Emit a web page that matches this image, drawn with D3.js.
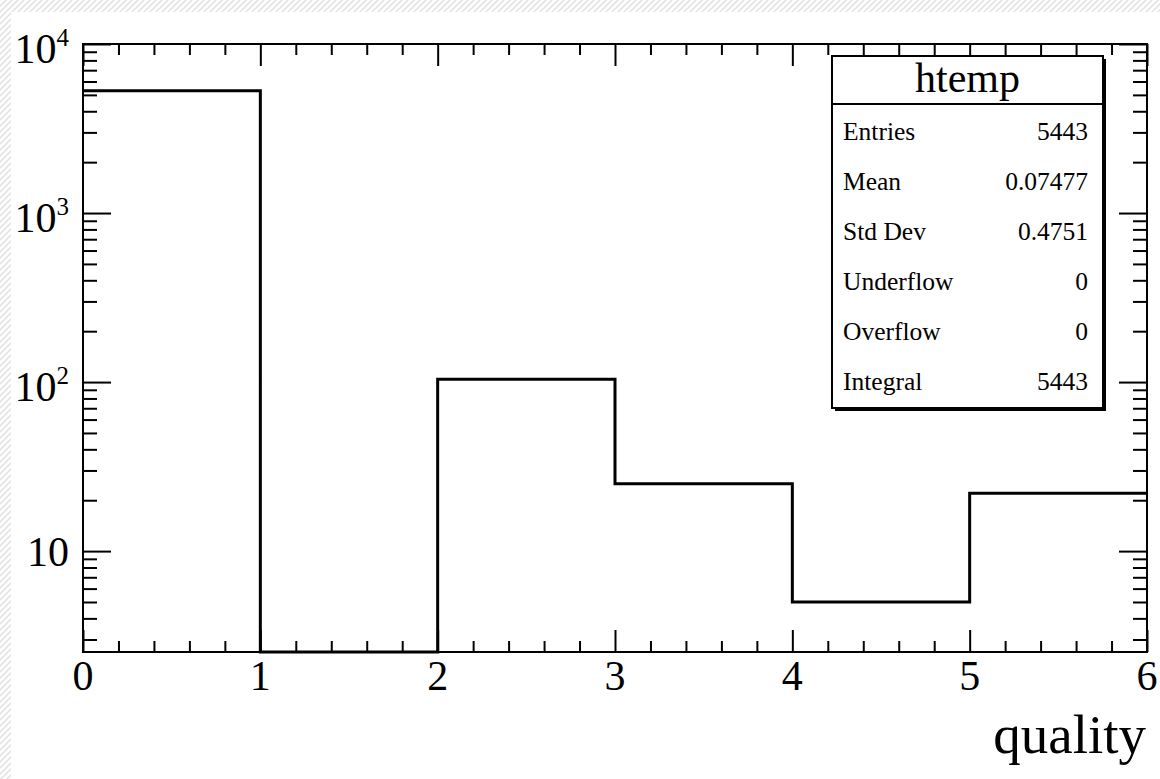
<!DOCTYPE html>
<html>
<head>
<meta charset="utf-8">
<script src="https://cdn.jsdelivr.net/npm/d3@7"></script>
<style>
  body { margin: 0; background: #fff; }
  svg { display: block; }
  .tick text { display: none; }
</style>
</head>
<body>
<div id="chart"></div>
<script>
// histogram contents (bins of width 1 on "quality")
const binEdges = [0, 1, 2, 3, 4, 5, 6]
const binCounts = [5287, 0, 104, 25, 5, 22]
const xTickValues = [0, 1, 2, 3, 4, 5, 6]
const yMajorTicks = [10, 100, 1000, 10000]
const yTickLabels = [["10", ""], ["10", "2"], ["10", "3"], ["10", "4"]]
const statNames = ["Entries", "Mean", "Std Dev", "Underflow", "Overflow", "Integral"]
const statValues = ["5443", "0.07477", "0.4751", "0", "0", "5443"]
const histTitle = "htemp"
const xTitle = "quality"
const yDomain = [2.53, 10000]

const W = 1160, H = 779
const frame = { left: 83, top: 44, right: 1147, bottom: 652 }
const serif = "'Liberation Serif', 'Times New Roman', serif"

const svg = d3.select('#chart').append('svg')
    .attr('width', W).attr('height', H)

// hatched canvas edge
const pat = svg.append('defs').append('pattern')
    .attr('id', 'hatch').attr('patternUnits', 'userSpaceOnUse')
    .attr('width', 6).attr('height', 6)
pat.append('path').attr('d', 'M-1,7 L7,-1 M-4,4 L4,-4 M2,10 L10,2')
    .attr('stroke', '#e4e4e4').attr('stroke-width', 1.6)
svg.append('rect').attr('width', W).attr('height', H).attr('fill', 'url(#hatch)')
svg.append('rect').attr('x', 11).attr('y', 12).attr('width', W - 11).attr('height', H - 12).attr('fill', '#fff')

const x = d3.scaleLinear().domain([0, 6]).range([frame.left, frame.right])
const y = d3.scaleLog().domain(yDomain).range([frame.bottom, frame.top])

// minor ticks
const xMinor = d3.range(0, 6.001, 0.2).map(v => +v.toFixed(1)).filter(v => !xTickValues.includes(v))
const yMinor = []
yMajorTicks.forEach(d => { for (let m = 2; m <= 9; m++) { const v = d / 10 * m; if (v >= yDomain[0] && v <= yDomain[1]) yMinor.push(v) } })

function styleAxis (g) {
  g.select('.domain').remove()
  g.selectAll('line').attr('stroke', '#000').attr('stroke-width', 2)
}

// bottom / top
svg.append('g').attr('transform', `translate(0,${frame.bottom})`)
    .call(d3.axisBottom(x).tickValues(xTickValues).tickSize(-22)).call(styleAxis)
svg.append('g').attr('transform', `translate(0,${frame.bottom})`)
    .call(d3.axisBottom(x).tickValues(xMinor).tickSize(-11)).call(styleAxis)
svg.append('g').attr('transform', `translate(0,${frame.top})`)
    .call(d3.axisTop(x).tickValues(xTickValues).tickSize(-22)).call(styleAxis)
svg.append('g').attr('transform', `translate(0,${frame.top})`)
    .call(d3.axisTop(x).tickValues(xMinor).tickSize(-11)).call(styleAxis)
// left / right
svg.append('g').attr('transform', `translate(${frame.left},0)`)
    .call(d3.axisLeft(y).tickValues(yMajorTicks).tickSize(-28)).call(styleAxis)
svg.append('g').attr('transform', `translate(${frame.left},0)`)
    .call(d3.axisLeft(y).tickValues(yMinor).tickSize(-14)).call(styleAxis)
svg.append('g').attr('transform', `translate(${frame.right},0)`)
    .call(d3.axisRight(y).tickValues(yMajorTicks).tickSize(-28)).call(styleAxis)
svg.append('g').attr('transform', `translate(${frame.right},0)`)
    .call(d3.axisRight(y).tickValues(yMinor).tickSize(-14)).call(styleAxis)

// histogram step line (empty bins sit on the bottom of the frame)
const pts = binCounts.map((c, i) => [binEdges[i], c])
pts.push([binEdges[binEdges.length - 1], binCounts[binCounts.length - 1]])
const line = d3.line()
    .x(d => x(d[0]))
    .y(d => y(Math.max(d[1], yDomain[0])))
    .curve(d3.curveStepAfter)
svg.append('path').datum(pts)
    .attr('d', line)
    .attr('fill', 'none').attr('stroke', '#000').attr('stroke-width', 3)

// frame
svg.append('rect')
    .attr('x', frame.left).attr('y', frame.top)
    .attr('width', frame.right - frame.left).attr('height', frame.bottom - frame.top)
    .attr('fill', 'none').attr('stroke', '#000').attr('stroke-width', 2)

// x labels
svg.selectAll('.xlab').data(xTickValues).join('text')
    .attr('class', 'xlab')
    .attr('x', d => x(d)).attr('y', 690)
    .attr('text-anchor', 'middle')
    .attr('font-family', serif).attr('font-size', 42)
    .text(d => d)

// y labels with superscripts
const ylab = svg.selectAll('.ylab').data(yMajorTicks).join('text')
    .attr('class', 'ylab')
    .attr('x', 69)
    .attr('y', (d, i) => y(d) + 15 + (yTickLabels[i][1] ? 4 : 0))
    .attr('text-anchor', 'end')
    .attr('font-family', serif).attr('font-size', 42)
ylab.append('tspan').text((d, i) => yTickLabels[i][0])
ylab.append('tspan').attr('font-size', 25).attr('dy', -17)
    .text((d, i) => yTickLabels[i][1])

// axis title
svg.append('text')
    .attr('x', 1146).attr('y', 753)
    .attr('text-anchor', 'end')
    .attr('font-family', serif).attr('font-size', 55)
    .text(xTitle)

// stats box
const box = { x: 832, y: 56, w: 271, h: 352 }
svg.append('rect').attr('x', box.x + 3).attr('y', box.y + 3)
    .attr('width', box.w).attr('height', box.h).attr('fill', '#000')
svg.append('rect').attr('x', box.x).attr('y', box.y)
    .attr('width', box.w).attr('height', box.h)
    .attr('fill', '#fff').attr('stroke', '#000').attr('stroke-width', 2)
svg.append('line').attr('x1', box.x).attr('x2', box.x + box.w)
    .attr('y1', 104).attr('y2', 104).attr('stroke', '#000').attr('stroke-width', 2)
svg.append('text').attr('x', box.x + box.w / 2).attr('y', 92)
    .attr('text-anchor', 'middle')
    .attr('font-family', serif).attr('font-size', 42)
    .text(histTitle)
const rowY = d3.scaleLinear().domain([0, statNames.length - 1]).range([140, 390])
svg.selectAll('.sname').data(statNames).join('text')
    .attr('class', 'sname')
    .attr('x', 843).attr('y', (d, i) => rowY(i))
    .attr('font-family', serif).attr('font-size', 25.5)
    .text(d => d)
svg.selectAll('.sval').data(statValues).join('text')
    .attr('class', 'sval')
    .attr('x', 1088).attr('y', (d, i) => rowY(i))
    .attr('text-anchor', 'end')
    .attr('font-family', serif).attr('font-size', 25.5)
    .text(d => d)
</script>
</body>
</html>
